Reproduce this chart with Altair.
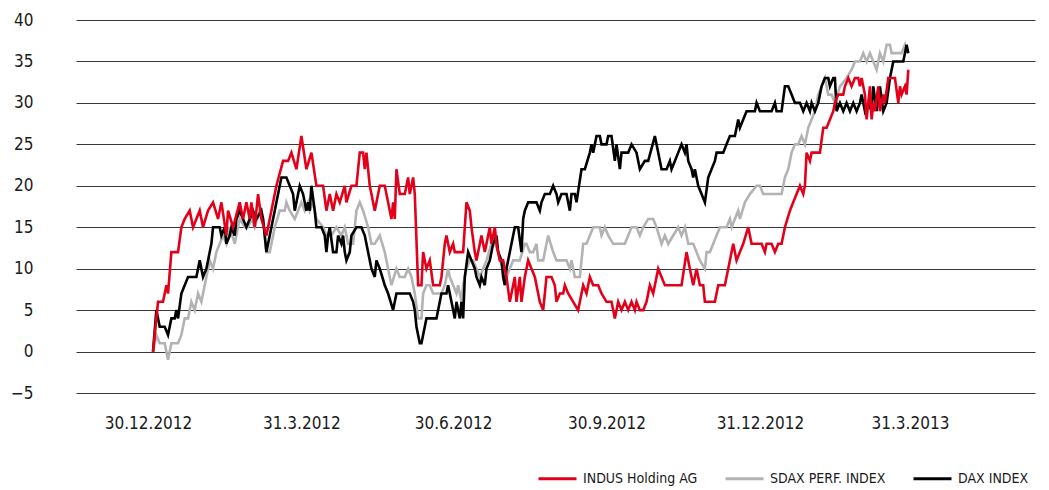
import altair as alt
import pandas as pd

series_names = ["INDUS Holding AG", "SDAX PERF. INDEX", "DAX INDEX"]
series_colors = ["#e2001a", "#b3b3b3", "#000000"]
draw_order = ["SDAX PERF. INDEX", "DAX INDEX", "INDUS Holding AG"]

# days since 30.12.2011
tick_days = [0, 92, 183, 275, 367, 457]
tick_labels = ["30.12.2012", "31.3.2012", "30.6.2012", "30.9.2012", "31.12.2012", "31.3.2013"]
y_ticks = [-5, 0, 5, 10, 15, 20, 25, 30, 35, 40]

indus_days = [3, 6, 9, 11, 12, 14, 18, 20, 22, 25, 27, 31, 33, 36, 39, 42, 44, 47, 48, 51, 55, 57, 59, 61, 62, 64, 66, 68, 71, 73,
              77, 81, 84, 86, 89, 92, 95, 98, 101, 105, 107, 109, 111, 113, 115, 118, 119, 122, 125, 127, 129, 130, 131, 133, 134, 136, 139, 142, 144, 145,
              146, 147, 148, 149, 151, 154, 156, 157, 159, 160, 162, 164, 165, 167, 169, 171, 175, 176, 178, 179, 181, 183, 184, 189, 191, 193, 194, 196, 197, 200,
              202, 205, 206, 208, 209, 211, 213, 215, 217, 220, 221, 223, 224, 226, 228, 230, 232, 235, 237, 239, 242, 244, 245, 247, 249, 250, 252, 255, 258, 261,
              263, 265, 267, 270, 272, 275, 278, 280, 282, 284, 286, 288, 290, 292, 293, 295, 297, 299, 301, 303, 306, 310, 320, 323, 325, 327, 329, 331, 333, 334,
              340, 342, 346, 348, 351, 353, 355, 357, 360, 362, 368, 370, 371, 374, 376, 378, 380, 382, 385, 387, 389, 391, 393, 394, 395, 397, 398, 403, 405, 407,
              409, 411, 412, 414, 417, 418, 420, 422, 424, 426, 427, 428, 430, 431, 433, 434, 435, 436, 438, 439, 441, 442, 444, 448, 450, 451, 452, 454, 455, 456]
indus_vals = [0, 6, 6, 8, 7, 12, 12, 15, 16, 17, 15, 17, 15, 17, 18, 16, 18, 14, 17, 15, 18, 16, 18, 16, 18, 15, 19, 16, 14, 16,
              20, 23, 23, 24, 22, 26, 22, 24, 20, 20, 17, 19, 17, 19, 18, 20, 18, 20, 20, 24, 24, 22, 24, 20, 19, 17, 20, 20, 18, 17,
              16, 18, 16, 22, 19, 19, 21, 19, 21, 19, 8, 8, 12, 10, 11, 8, 8, 9, 13, 14, 12, 13, 12, 12, 18, 17, 15, 12, 11, 14,
              12, 15, 13, 15, 13, 11, 11, 9, 6, 9, 6, 9, 6, 9, 11, 10, 9, 6, 5, 9, 9, 8, 6, 7, 7, 8, 7, 6, 5, 8,
              7, 9, 8, 8, 7, 6, 6, 4, 6, 5, 6, 5, 6, 5, 6, 5, 5, 6, 8, 7, 10, 8, 8, 12, 10, 8, 10, 8, 8, 6,
              6, 8, 8, 10, 13, 11, 12, 13, 15, 13, 13, 12, 13, 13, 12, 13, 13, 15, 17, 18, 19, 20, 19, 20, 24, 23, 24, 24, 27, 27,
              28, 29, 30, 31, 31, 32, 33, 32, 33, 33, 32, 33, 31, 28, 32, 28, 30, 29, 32, 29, 31, 30, 33, 33, 30, 32, 31, 32, 31, 34]

sdax_days = [3, 5, 7, 10, 12, 14, 18, 20, 22, 24, 26, 28, 30, 32, 35, 37, 39, 41, 43, 45, 47, 49, 52, 55, 58, 60, 62, 64, 67, 69,
             71, 73, 76, 79, 82, 83, 85, 88, 90, 92, 94, 96, 97, 99, 101, 105, 107, 110, 113, 116, 118, 120, 123, 125, 127, 129, 132, 134, 136, 139,
             142, 144, 146, 149, 151, 154, 156, 158, 160, 162, 164, 165, 167, 169, 171, 176, 178, 180, 181, 183, 185, 186, 188, 189, 191, 193, 195, 197, 199, 201,
             203, 206, 208, 210, 211, 213, 215, 217, 219, 223, 226, 227, 229, 231, 233, 234, 237, 239, 240, 243, 245, 251, 253, 254, 256, 259, 261, 263, 265, 267,
             271, 272, 274, 276, 279, 286, 288, 290, 293, 295, 297, 300, 303, 305, 308, 310, 312, 315, 318, 320, 322, 324, 327, 329, 331, 334, 335, 337, 339, 341,
             343, 347, 349, 350, 354, 355, 358, 361, 365, 367, 369, 380, 382, 384, 386, 388, 390, 392, 394, 396, 398, 400, 402, 404, 406, 408, 410, 412, 415, 419,
             422, 424, 427, 429, 431, 433, 435, 437, 439, 441, 443, 445, 446, 452, 454, 455]
sdax_vals = [0, 2, 1, 1, -1, 1, 1, 2, 4, 4, 6, 5, 7, 6, 9, 11, 10, 12, 13, 14, 13, 15, 13, 16, 15, 15, 16, 15, 17, 16,
             12, 12, 15, 17, 17, 18, 17, 16, 17, 18, 17, 18, 17, 18, 16, 15, 14, 14, 15, 14, 15, 13, 13, 17, 18, 17, 15, 13, 13, 14,
             12, 10, 8, 10, 9, 9, 10, 9, 7, 4, 4, 7, 8, 8, 7, 7, 8, 10, 9, 8, 7, 8, 6, 8, 10, 11, 11, 10, 9, 10,
             11, 13, 13, 12, 11, 10, 9, 10, 11, 11, 13, 13, 12, 12, 13, 11, 11, 13, 14, 12, 11, 11, 10, 11, 9, 9, 13, 13, 14, 15,
             15, 14, 15, 14, 13, 13, 14, 15, 15, 14, 15, 16, 16, 15, 13, 14, 13, 14, 15, 14, 15, 13, 13, 12, 11, 10, 12, 12, 13, 14,
             15, 15, 16, 15, 17, 16, 18, 19, 20, 20, 19, 19, 21, 22, 24, 25, 25, 26, 25, 27, 28, 29, 31, 32, 33, 31, 31, 30, 32, 33,
             34, 35, 35, 36, 35, 36, 35, 34, 36, 35, 37, 37, 36, 36, 37, 36]

dax_days = [3, 5, 7, 10, 12, 14, 16, 17, 18, 20, 22, 24, 29, 31, 33, 35, 37, 38, 39, 43, 44, 46, 47, 49, 50, 52, 53, 55, 57, 59,
            61, 63, 65, 68, 69, 71, 73, 74, 76, 78, 80, 83, 85, 87, 88, 91, 93, 95, 96, 97, 98, 100, 101, 104, 106, 107, 108, 109, 111, 113,
            114, 116, 117, 118, 119, 121, 122, 125, 128, 130, 131, 133, 134, 136, 137, 139, 142, 144, 147, 149, 157, 159, 160, 161, 163, 164, 166, 167, 173, 175,
            176, 179, 180, 181, 183, 184, 185, 187, 188, 189, 190, 192, 194, 196, 197, 199, 200, 202, 203, 205, 206, 207, 209, 210, 212, 213, 214, 215, 217, 218,
            220, 222, 224, 225, 226, 228, 233, 235, 236, 238, 241, 243, 245, 246, 248, 251, 253, 254, 256, 257, 260, 262, 265, 266, 267, 269, 271, 272, 275, 276,
            278, 280, 281, 283, 284, 288, 290, 293, 295, 298, 300, 304, 305, 308, 311, 313, 314, 316, 318, 320, 322, 323, 324, 326, 327, 328, 330, 332, 334, 336,
            338, 340, 341, 345, 347, 349, 352, 354, 355, 357, 359, 364, 365, 367, 374, 376, 377, 380, 382, 384, 386, 388, 391, 393, 395, 397, 398, 400, 402, 404,
            406, 408, 409, 411, 412, 413, 415, 417, 419, 421, 423, 425, 427, 428, 430, 432, 434, 435, 437, 439, 441, 443, 445, 447, 453, 455, 456]
dax_vals = [0, 5, 3, 3, 2, 4, 4, 5, 4, 7, 8, 9, 9, 11, 9, 10, 12, 13, 15, 15, 14, 15, 13, 14, 15, 14, 16, 17, 16, 15,
            16, 17, 16, 17, 16, 12, 14, 15, 17, 19, 21, 21, 20, 19, 17, 20, 19, 17, 18, 17, 20, 17, 15, 15, 14, 12, 14, 15, 12, 12,
            14, 13, 14, 12, 11, 12, 14, 15, 15, 14, 13, 11, 10, 9, 11, 10, 8, 7, 5, 7, 7, 6, 5, 3, 1, 1, 3, 4, 4, 6,
            7, 7, 8, 7, 5, 4, 6, 4, 6, 4, 9, 12, 11, 10, 9, 8, 9, 8, 10, 11, 12, 13, 14, 12, 11, 9, 8, 10, 12, 13,
            15, 15, 12, 16, 17, 18, 18, 17, 18, 19, 19, 20, 19, 18, 19, 19, 17, 19, 19, 18, 22, 22, 24, 25, 24, 26, 26, 25, 25, 26,
            26, 23, 25, 22, 24, 24, 25, 24, 22, 23, 23, 26, 25, 22, 22, 23, 22, 23, 24, 25, 24, 25, 23, 22, 21, 22, 20, 19, 18, 21,
            22, 23, 24, 24, 25, 26, 26, 28, 27, 28, 29, 29, 30, 29, 29, 30, 29, 29, 32, 32, 31, 30, 30, 29, 30, 29, 30, 29, 30, 32,
            33, 33, 32, 33, 33, 29, 30, 29, 30, 29, 30, 29, 30, 31, 29, 30, 29, 32, 29, 32, 29, 30, 33, 35, 35, 37, 36]

frames = []
for name, days, vals in [(series_names[0], indus_days, indus_vals),
                         (series_names[1], sdax_days, sdax_vals),
                         (series_names[2], dax_days, dax_vals)]:
    frames.append(pd.DataFrame({"day": days, "value": vals, "series": name}))
df = pd.concat(frames, ignore_index=True)

label_expr = " : ".join(f"datum.value == {d} ? '{l}'" for d, l in zip(tick_days, tick_labels)) + " : ''"

FONT = "DejaVu Sans Condensed, Liberation Sans Narrow, Liberation Sans, sans-serif"

color = alt.Color(
    "series:N",
    scale=alt.Scale(domain=series_names, range=series_colors),
    legend=alt.Legend(
        title=None, orient="none", legendX=461, legendY=438, direction="horizontal",
        symbolType="stroke", symbolSize=1444, symbolStrokeWidth=3,
        labelFont=FONT, labelFontSize=14, labelColor="#1a1a1a",
        labelOffset=5, columnPadding=21, padding=0,
    ),
)

base = alt.Chart(df).mark_line(strokeWidth=2.6).encode(
    x=alt.X("day:Q", scale=alt.Scale(domain=[-43.2, 532], nice=False, zero=False),
            axis=alt.Axis(values=tick_days, labelExpr=label_expr, grid=False, domain=False,
                          ticks=False, labelPadding=22, labelOverlap=False, title=None)),
    y=alt.Y("value:Q", scale=alt.Scale(domain=[-5, 40], nice=False, zero=False),
            axis=alt.Axis(values=y_ticks, grid=True, gridColor="#3a3a3a", gridWidth=1,
                          domain=False, ticks=False, labelPadding=43, title=None)),
    color=color,
)

layers = [base.transform_filter(alt.datum.series == s) for s in draw_order]

chart = alt.layer(*layers).properties(
    width=959, height=373,
    autosize=alt.AutoSizeParams(type="none"),
    padding={"left": 68, "top": 12, "right": 6, "bottom": 100},
).configure_view(stroke=None).configure_axis(
    labelFont=FONT, labelFontSize=17, labelColor="#1a1a1a",
)

chart.save("out.html", embed_options={"renderer": "svg", "actions": False})
